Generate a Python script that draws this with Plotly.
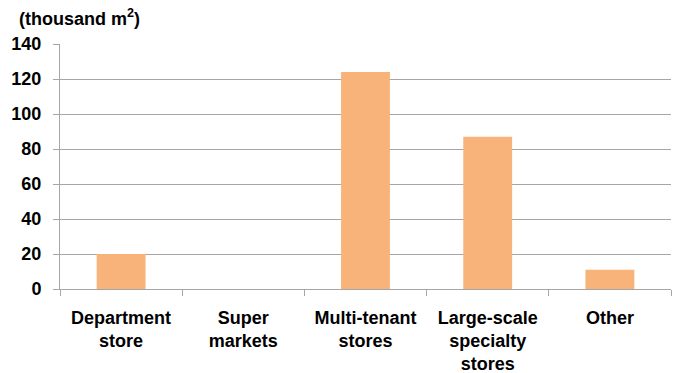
import plotly.graph_objects as go

categories = ["Department<br>store", "Super<br>markets", "Multi-tenant<br>stores",
              "Large-scale<br>specialty<br>stores", "Other"]
values = [20, 0, 124, 87, 11]
y_ticks = [0, 20, 40, 60, 80, 100, 120, 140]
unit_label = "(thousand m<sup>2</sup>)"

FONT = "Liberation Sans, Arial, sans-serif"
GRID = "#a6a6a6"
FS = 18

fig = go.Figure(go.Bar(
    x=categories, y=values,
    marker=dict(color="#F8B37B", line=dict(width=0)),
    width=0.4,
))

fig.update_layout(
    width=679, height=373,
    margin=dict(l=60, r=8, t=44, b=84),
    paper_bgcolor="white", plot_bgcolor="white",
    showlegend=False,
    font=dict(family=FONT, size=FS, color="black"),
)
fig.update_xaxes(
    type="category", automargin=False,
    showline=True, linecolor=GRID, linewidth=1,
    ticks="outside", tickson="boundaries", ticklen=6, tickcolor=GRID,
    tickfont=dict(family=FONT, size=FS, color="black", weight="bold"),
    showgrid=False,
    ticklabelstandoff=12,
)
fig.update_yaxes(
    range=[0, 140], tickvals=y_ticks, automargin=False,
    showline=True, linecolor=GRID, linewidth=1,
    ticks="outside", ticklen=6, tickcolor=GRID,
    showgrid=True, gridcolor=GRID, gridwidth=1,
    zeroline=False,
    tickfont=dict(family=FONT, size=FS, color="black", weight="bold"),
    ticklabelstandoff=8,
)
fig.add_annotation(
    text=unit_label, xref="paper", yref="paper",
    x=(17 - 60) / 611, y=1 + (44 - 17) / 245,
    xanchor="left", yanchor="middle", showarrow=False,
    font=dict(family=FONT, size=FS, color="black", weight="bold"),
)

fig.write_html("out.html")
